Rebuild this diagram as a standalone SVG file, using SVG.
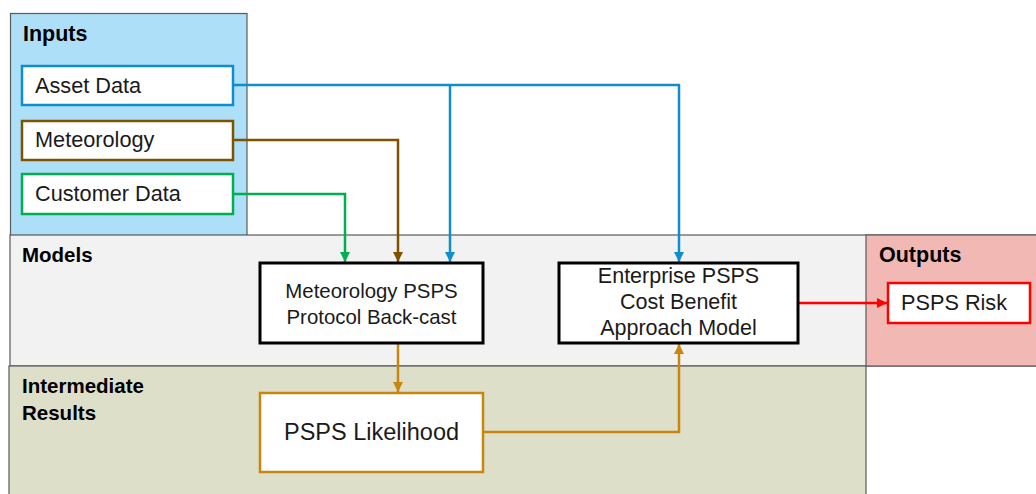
<svg xmlns="http://www.w3.org/2000/svg" width="1036" height="494" viewBox="0 0 1036 494">
<style>
.panel{stroke:#5a5a5a;stroke-width:1.2}
.hdr{font-family:"Liberation Sans",Arial,sans-serif;font-weight:bold;font-size:20.5px;fill:#000}
.lbl{font-family:"Liberation Sans",Arial,sans-serif;font-size:21.7px;fill:#1a1a1a}
.mlbl{font-family:"Liberation Sans",Arial,sans-serif;font-size:20.4px;fill:#1a1a1a;text-anchor:middle}
.elbl{font-family:"Liberation Sans",Arial,sans-serif;font-size:21.5px;fill:#1a1a1a;text-anchor:middle}
.box{fill:#fff}
.con{fill:none;stroke-width:2.5}
</style>
<defs>
<marker id="ab" viewBox="0 0 10 10" refX="10" refY="5" markerWidth="4" markerHeight="4" orient="auto" markerUnits="strokeWidth"><path d="M0,0L10,5L0,10z" fill="#0E8ECF"/></marker>
<marker id="ar" viewBox="0 0 10 10" refX="10" refY="5" markerWidth="4" markerHeight="4" orient="auto" markerUnits="strokeWidth"><path d="M0,0L10,5L0,10z" fill="#7F5200"/></marker>
<marker id="ag" viewBox="0 0 10 10" refX="10" refY="5" markerWidth="4" markerHeight="4" orient="auto" markerUnits="strokeWidth"><path d="M0,0L10,5L0,10z" fill="#00B050"/></marker>
<marker id="ao" viewBox="0 0 10 10" refX="10" refY="5" markerWidth="4" markerHeight="4" orient="auto" markerUnits="strokeWidth"><path d="M0,0L10,5L0,10z" fill="#C8860E"/></marker>
<marker id="aR" viewBox="0 0 10 10" refX="10" refY="5" markerWidth="4" markerHeight="4" orient="auto" markerUnits="strokeWidth"><path d="M0,0L10,5L0,10z" fill="#FF0000"/></marker>
</defs>
<rect width="1036" height="494" fill="#fff"/>
<g id="panels">
<rect class="panel" x="10.5" y="13.5" width="236.5" height="222" fill="#ADDFF8"/>
<rect class="panel" x="10" y="235" width="1030" height="131" fill="#F2F2F2"/>
<rect class="panel" x="866" y="235" width="174" height="131" fill="#F2B9B4"/>
<rect class="panel" x="9" y="366" width="857" height="132" fill="#DDDFC9"/>
<text class="hdr" x="23" y="41" style="font-size:21.5px">Inputs</text>
<text class="hdr" x="22" y="262">Models</text>
<text class="hdr" x="879" y="262" style="font-size:21.5px">Outputs</text>
<text class="hdr" x="22" y="393">Intermediate</text>
<text class="hdr" x="22" y="420">Results</text>
</g>
<g id="connectors">
<path class="con" stroke="#0E8ECF" d="M233,85H679V262" marker-end="url(#ab)"/>
<path class="con" stroke="#0E8ECF" d="M450,85V262" marker-end="url(#ab)"/>
<path class="con" stroke="#7F5200" d="M233,140H398V262" marker-end="url(#ar)"/>
<path class="con" stroke="#00B050" d="M233,194H345V262" marker-end="url(#ag)"/>
<path class="con" stroke="#C8860E" d="M398,343V392" marker-end="url(#ao)"/>
<path class="con" stroke="#C8860E" d="M483,432H679V344" marker-end="url(#ao)"/>
<path class="con" stroke="#FF0000" d="M798,303H887" marker-end="url(#aR)"/>
</g>
<g id="asset"><rect class="box" x="22" y="66" width="211" height="39" stroke="#0E8ECF" stroke-width="2.5"/><text class="lbl" x="35" y="93">Asset Data</text></g>
<g id="meteo"><rect class="box" x="22" y="121" width="211" height="39" stroke="#7F5200" stroke-width="2.5"/><text class="lbl" x="35" y="147">Meteorology</text></g>
<g id="customer"><rect class="box" x="22" y="174" width="211" height="40" stroke="#00B050" stroke-width="2.5"/><text class="lbl" x="35" y="201">Customer Data</text></g>
<g id="backcast"><rect class="box" x="260" y="263" width="223" height="80" stroke="#000" stroke-width="3"/><text class="mlbl" x="371.5" y="298">Meteorology PSPS</text><text class="mlbl" x="371.5" y="324">Protocol Back-cast</text></g>
<g id="enterprise"><rect class="box" x="559" y="263" width="239" height="80" stroke="#000" stroke-width="3"/><text class="elbl" x="678.5" y="283">Enterprise PSPS</text><text class="elbl" x="678.5" y="309">Cost Benefit</text><text class="elbl" x="678.5" y="335">Approach Model</text></g>
<g id="likelihood"><rect class="box" x="260" y="393" width="223" height="79" stroke="#C8860E" stroke-width="2.5"/><text x="371.5" y="440" text-anchor="middle" font-family="Liberation Sans,Arial,sans-serif" font-size="23.5" fill="#1a1a1a">PSPS Likelihood</text></g>
<g id="risk"><rect class="box" x="888" y="283" width="142" height="40" stroke="#FF0000" stroke-width="2.5"/><text class="lbl" x="901" y="310">PSPS Risk</text></g>
</svg>
